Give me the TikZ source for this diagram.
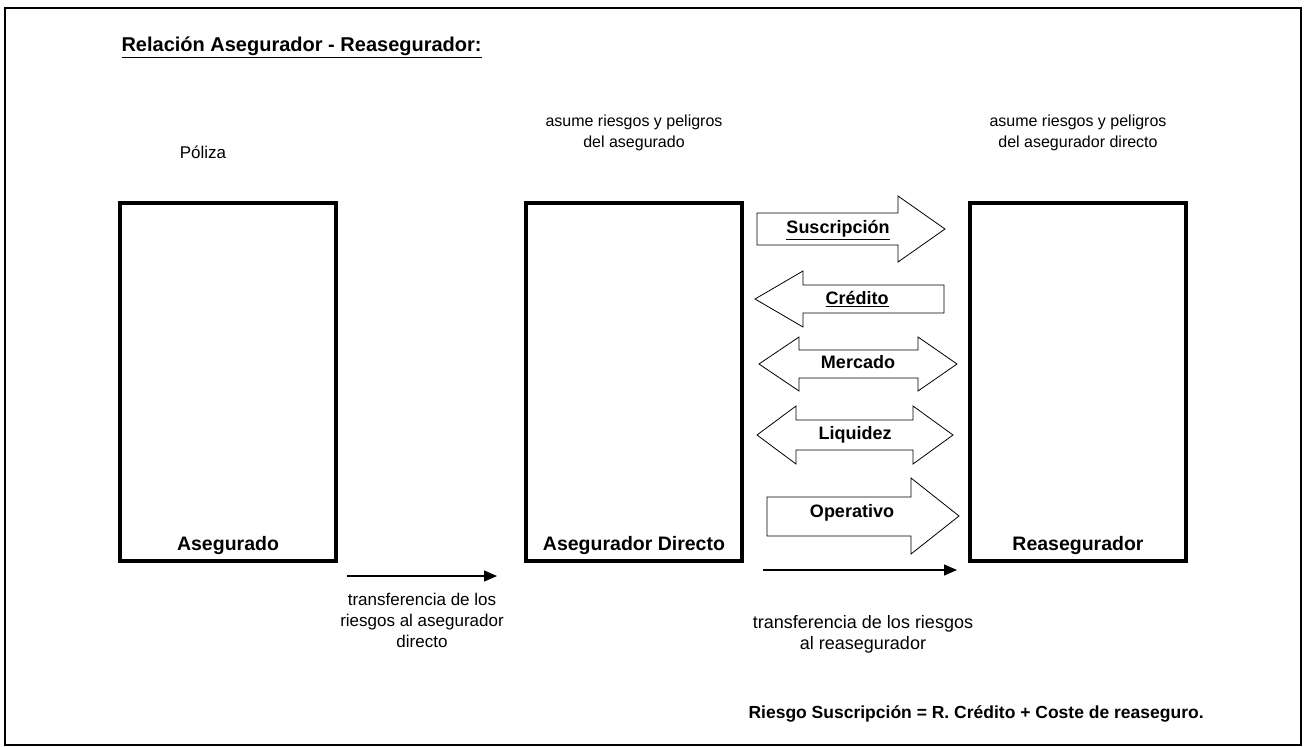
\documentclass[tikz,border=0pt]{standalone}
\usepackage{fontspec}
\setmainfont{Liberation Sans}
\usetikzlibrary{arrows.meta, positioning, calc}

\begin{document}
\begin{tikzpicture}[x=1pt, y=-1pt,
  txt/.style={font=\fontsize{17}{21}\selectfont, align=center},
  btxt/.style={font=\fontsize{18}{21}\selectfont\bfseries, text height=13pt, text depth=3.5pt},
  caja/.style={draw, line width=3.5pt, minimum width=216, minimum height=358, inner sep=0pt},
  bloque/.style={draw, line width=0.8pt, fill=white, line join=miter},
  flecha/.style={line width=1.3pt, -{Triangle[length=13pt, width=11pt]}}
]
\useasboundingbox (0,0) rectangle (1307,747);
% frame
\draw[line width=2pt] (5,8) rectangle (1301,745);

% title
\node[btxt, font=\fontsize{20}{21}\selectfont\bfseries, anchor=west] (titulo) at (118,47) {\underline{Relación Asegurador - Reasegurador:}};

% boxes
\node[caja] (asegurado) at (228,382) {};
\node[caja] (directo) at (634,382) {};
\node[caja] (reaseg) at (1078,382) {};
\node[btxt, font=\fontsize{19.5}{21}\selectfont\bfseries] (lasegurado) at (228,546) {Asegurado};
\node[btxt, font=\fontsize{19.5}{21}\selectfont\bfseries] (ldirecto) at (634,546) {Asegurador Directo};
\node[btxt, font=\fontsize{19.5}{21}\selectfont\bfseries] (lreaseg) at (1078,546) {Reasegurador};

% texts above the boxes
\node[txt] (poliza) at (203,152) {Póliza};
\node[txt, font=\fontsize{16}{21}\selectfont] (asume1) at (634,133) {asume riesgos y peligros\\del asegurado};
\node[txt, font=\fontsize{16}{21}\selectfont] (asume2) at (1078,133) {asume riesgos y peligros\\del asegurador directo};

% Suscripcion
\draw[bloque] (757,213) -- (898,213) -- (898,196) -- (945,229) -- (898,262) -- (898,245) -- (757,245) -- cycle;
\node[btxt] (suscripcion) at (838,229) {\underline{Suscripción}};

% Credito
\draw[bloque] (944,285) -- (803,285) -- (803,271) -- (755,299) -- (803,327) -- (803,313) -- (944,313) -- cycle;
\node[btxt] (credito) at (857,300) {\underline{Crédito}};

% Mercado
\draw[bloque] (759,364) -- (799,337) -- (799,350) -- (918,350) -- (918,337) -- (957,364)
  -- (918,391) -- (918,378) -- (799,378) -- (799,391) -- cycle;
\node[btxt] (mercado) at (858,364) {Mercado};

% Liquidez
\draw[bloque] (757,435) -- (796,406) -- (796,420) -- (913,420) -- (913,406) -- (953,435)
  -- (913,464) -- (913,450) -- (796,450) -- (796,464) -- cycle;
\node[btxt] (liquidez) at (855,435) {Liquidez};

% Operativo
\draw[bloque] (767,497) -- (911,497) -- (911,478) -- (959,516) -- (911,554) -- (911,536) -- (767,536) -- cycle;
\node[btxt] (operativo) at (852,513) {Operativo};

% transfers
\coordinate (t1a) at (347,576);
\coordinate (t1b) at (497,576);
\draw[flecha] (t1a) -- (t1b);
\node[txt, below=14pt of $(t1a)!0.5!(t1b)$] (trans1) {transferencia de los\\riesgos al asegurador\\directo};

\coordinate (t2a) at (763,570);
\coordinate (t2b) at (957,570);
\draw[flecha] (t2a) -- (t2b);
\node[txt, font=\fontsize{18}{21}\selectfont] (trans2) at (863,634) {transferencia de los riesgos\\al reasegurador};

% formula
\node[btxt, font=\fontsize{17.5}{21}\selectfont\bfseries, anchor=west] (formula) at (745,714) {Riesgo Suscripción = R. Crédito + Coste de reaseguro.};
\end{tikzpicture}
\end{document}
